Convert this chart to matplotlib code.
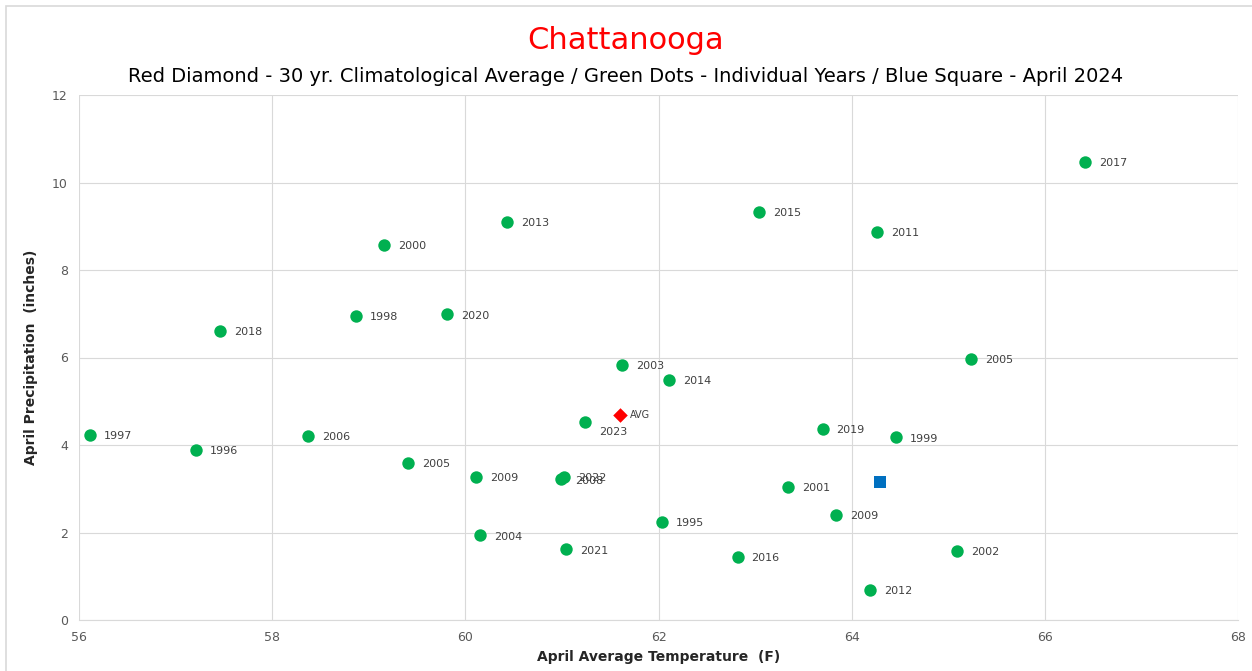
import matplotlib.pyplot as plt
from matplotlib.patches import Rectangle

# April average temperature (F) and precipitation (in) for individual years
years = ["1997", "1996", "2018", "2006", "1998", "2000", "2005", "2020", "2009",
         "2004", "2013", "2022", "2008", "2021", "2023", "2003", "1995", "2014",
         "2016", "2015", "2001", "2019", "2009", "2012", "2011", "1999", "2002",
         "2005", "2017"]
temp = [56.11, 57.21, 57.46, 58.37, 58.87, 59.16, 59.41, 59.81, 60.11,
        60.15, 60.43, 61.02, 60.99, 61.04, 61.24, 61.62, 62.04, 62.11,
        62.82, 63.04, 63.34, 63.70, 63.84, 64.19, 64.26, 64.46, 65.09,
        65.24, 66.42]
precip = [4.23, 3.89, 6.61, 4.21, 6.95, 8.57, 3.59, 6.99, 3.27,
          1.94, 9.10, 3.28, 3.22, 1.62, 4.53, 5.83, 2.24, 5.49,
          1.44, 9.33, 3.04, 4.37, 2.40, 0.69, 8.87, 4.18, 1.58,
          5.97, 10.47]

avg_temp, avg_precip = 61.60, 4.69      # 30 yr climatological average
cur_temp, cur_precip = 64.29, 3.15      # April 2024

fig = plt.figure(figsize=(12.52, 6.71), dpi=100)
ax = fig.add_axes([79 / 1252, 51 / 671, 1159 / 1252, 525 / 671])

# outer chart border
fig.patches.append(Rectangle((6 / 1252, -0.01), 1.1, 665 / 671 + 0.01,
                             transform=fig.transFigure, fill=False,
                             edgecolor="#d9d9d9", linewidth=1.2))

ax.scatter(temp, precip, s=80, color="#00b050", zorder=3, linewidths=0)
ax.scatter([avg_temp], [avg_precip], s=55, marker="D", color="#ff0000",
           zorder=4, linewidths=0)
ax.scatter([cur_temp], [cur_precip], s=80, marker="s", color="#0070c0",
           zorder=4, linewidths=0)

for x, y, lab in zip(temp, precip, years):
    if lab == "2023":
        ax.annotate(lab, (x, y), xytext=(10, -7), textcoords="offset points",
                    fontsize=8, color="#404040", va="center", ha="left")
    else:
        ax.annotate(lab, (x, y), xytext=(10, -1), textcoords="offset points",
                    fontsize=8, color="#404040", va="center", ha="left")
ax.annotate("AVG", (avg_temp, avg_precip), xytext=(7, 0),
            textcoords="offset points", fontsize=7, color="#404040",
            va="center", ha="left")

ax.set_xlim(56, 68)
ax.set_ylim(0, 12)
ax.set_xticks(range(56, 69, 2))
ax.set_yticks(range(0, 13, 2))
ax.grid(True, color="#d9d9d9", linewidth=0.8)
ax.set_axisbelow(True)
for side in ["top", "right", "left"]:
    ax.spines[side].set_visible(False)
ax.spines["bottom"].set_color("#d9d9d9")
ax.tick_params(length=0, labelsize=9, colors="#595959", pad=8)

ax.set_xlabel("April Average Temperature  (F)", fontsize=10, fontweight="bold",
              color="#262626", labelpad=4)
ax.set_ylabel("April Precipitation  (inches)", fontsize=10, fontweight="bold",
              color="#262626", labelpad=10)

fig.text(0.5, 0.94, "Chattanooga", ha="center", va="center", fontsize=22,
         color="#ff0000")
fig.text(0.5, 0.886, "Red Diamond - 30 yr. Climatological Average / Green Dots - "
         "Individual Years / Blue Square - April 2024", ha="center", va="center",
         fontsize=14, color="#000000")

fig.savefig("out.png", dpi=100)
